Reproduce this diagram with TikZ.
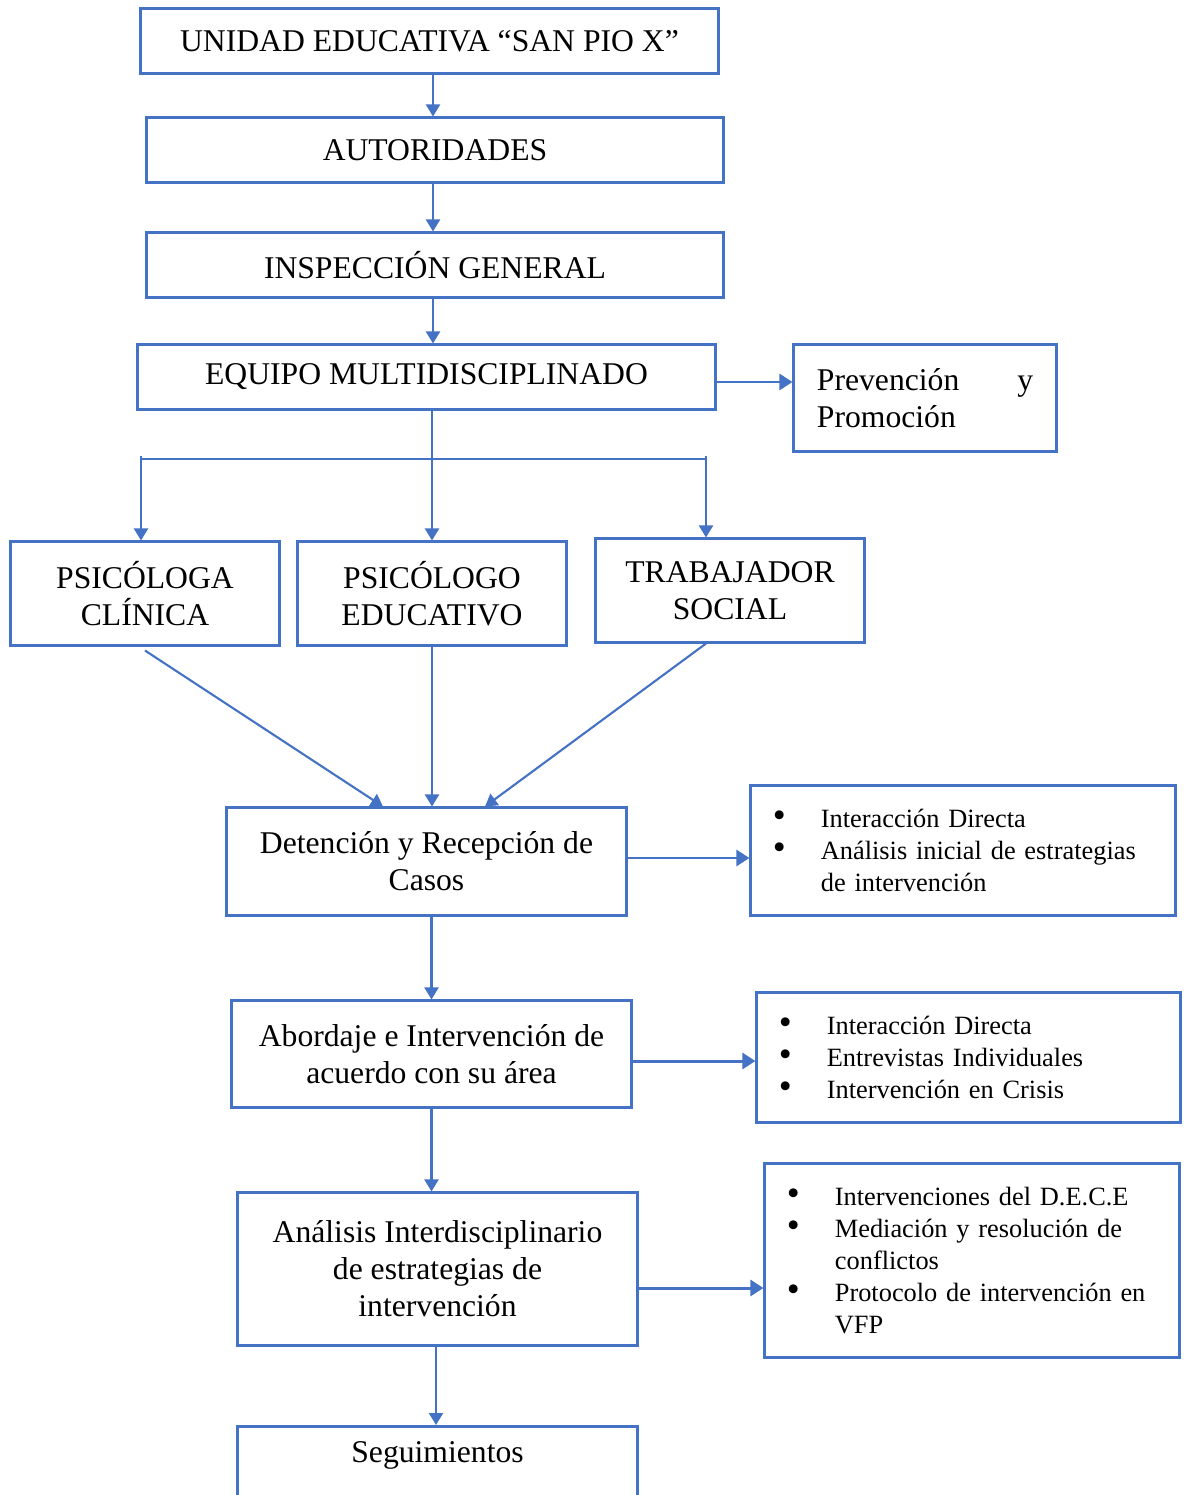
\documentclass[tikz,border=0pt]{standalone}
\usepackage{fontspec}
\setmainfont{Liberation Serif}
\usepackage{xcolor}
\usepackage{tikz}
\usetikzlibrary{positioning, arrows.meta}
\definecolor{oBlue}{HTML}{4472C4}
\tikzset{
  stepbox/.style={draw=oBlue, line width=0.85pt, inner sep=0pt, align=center,
    font=\fontsize{9}{10.5}\selectfont},
  listbox/.style={draw=oBlue, line width=0.85pt, inner xsep=0.22cm, inner ysep=0pt, align=left,
    font=\fontsize{7.5}{9.1}\selectfont},
  flowline/.style={oBlue, line width=0.6pt},
  flowarrow/.style={flowline, -{Triangle[length=0.12cm, width=0.14cm]}},
  sidearrow/.style={oBlue, line width=0.85pt, -{Triangle[length=0.13cm, width=0.16cm]}},
}
\newcommand{\bul}{{\fontsize{10.5}{9.1}\selectfont\textbullet}\hspace{0.35cm}}
\newcommand{\cont}{\hspace*{0.48cm}}

\begin{document}
\begin{tikzpicture}[x=0.01cm, y=-0.01cm]
  \useasboundingbox (0,0) rectangle (1189,1495);
  \node[stepbox, minimum width=5.77cm, minimum height=0.64cm] (unidad) at (429.5,41) {UNIDAD EDUCATIVA “SAN PIO X”};
  \node[stepbox, minimum width=5.76cm, minimum height=0.64cm] (autor) at (435,150) {AUTORIDADES};
  \node[stepbox, minimum width=5.76cm, minimum height=0.64cm] (insp) at (435,265) {INSPECCIÓN GENERAL};
  \node[stepbox, minimum width=5.77cm, minimum height=0.64cm] (equipo) at (426.5,377) {EQUIPO MULTIDISCIPLINADO};
  \node[stepbox, minimum width=2.62cm, minimum height=1.06cm, align=left] (prev) at (925,398)
    {\makebox[2.16cm][s]{Prevención\hfill y}\\Promoción};
  \node[stepbox, minimum width=2.68cm, minimum height=1.03cm] (psicla) at (145,593.5) {PSICÓLOGA\\CLÍNICA};
  \node[stepbox, minimum width=2.68cm, minimum height=1.03cm] (psiedu) at (432,593.5) {PSICÓLOGO\\EDUCATIVO};
  \node[stepbox, minimum width=2.68cm, minimum height=1.03cm] (trab) at (730,590.5) {TRABAJADOR\\SOCIAL};
  \node[stepbox, minimum width=3.99cm, minimum height=1.07cm] (deten) at (426.5,861.5) {Detención y Recepción de\\Casos};
  \node[stepbox, minimum width=3.99cm, minimum height=1.06cm] (abord) at (431.5,1054) {Abordaje e Intervención de\\acuerdo con su área};
  \node[stepbox, minimum width=3.99cm, minimum height=1.52cm] (anal) at (437.5,1269) {Análisis Interdisciplinario\\de estrategias de\\intervención};
  \node[stepbox, minimum width=3.99cm, minimum height=1.1cm, anchor=north] (segui) at (437.5,1425) {};
  \node[font=\fontsize{9}{10.5}\selectfont] (seguitxt) at ([yshift=-0.3cm]segui.north) {Seguimientos};

  \node[listbox, minimum width=4.24cm, minimum height=1.29cm, text width=3.80cm] (lista) at (963,850.5)
    {\bul Interacción Directa\\ \bul Análisis inicial de estrategias\\ \cont de intervención};
  \node[listbox, minimum width=4.23cm, minimum height=1.29cm, text width=3.79cm] (listb) at (968.5,1057.5)
    {\bul Interacción Directa\\ \bul Entrevistas Individuales\\ \bul Intervención en Crisis};
  \node[listbox, minimum width=4.14cm, minimum height=1.93cm, text width=3.70cm] (listc) at (972,1260.5)
    {\bul Intervenciones del D.E.C.E\\ \bul Mediación y resolución de\\ \cont conflictos\\
     \bul Protocolo de intervención en\\ \cont VFP};

  \draw[flowarrow] (unidad.south -| 433,0) -- (autor.north -| 433,0);
  \draw[flowarrow] (autor.south -| 433,0) -- (insp.north -| 433,0);
  \draw[flowarrow] (insp.south -| 433,0) -- (equipo.north -| 433,0);
  \draw[sidearrow] ([yshift=-0.05cm]equipo.east) -- ([yshift=-0.05cm]equipo.east -| prev.west);

  \coordinate (bl) at (141,459);
  \coordinate (br) at (706,459);
  \draw[flowline] (bl) -- (br);
  \draw[flowarrow] ([yshift=0.03cm]bl) -- (bl |- psicla.north);
  \draw[flowarrow] (equipo.south -| psiedu.north) -- (psiedu.north);
  \draw[flowarrow] ([yshift=0.03cm]br) -- (br |- trab.north);

  \draw[flowarrow] ([yshift=-0.04cm]psicla.south) -- ([xshift=-0.435cm]deten.north);
  \draw[flowarrow] (psiedu.south) -- (psiedu.south |- deten.north);
  \draw[flowarrow] ([xshift=-0.24cm]trab.south) -- ([xshift=0.585cm]deten.north);

  \draw[sidearrow] ([yshift=0.035cm]deten.east) -- ([yshift=0.035cm]deten.east -| lista.west);
  \draw[flowarrow] (deten.south -| abord.north) -- (abord.north);
  \draw[sidearrow] ([yshift=-0.07cm]abord.east) -- ([yshift=-0.07cm]abord.east -| listb.west);
  \draw[flowarrow] (abord.south) -- (abord.south |- anal.north);
  \draw[sidearrow] ([yshift=-0.19cm]anal.east) -- ([yshift=-0.19cm]anal.east -| listc.west);
  \draw[flowarrow] (anal.south -| 436,0) -- (segui.north -| 436,0);
\end{tikzpicture}
\end{document}
